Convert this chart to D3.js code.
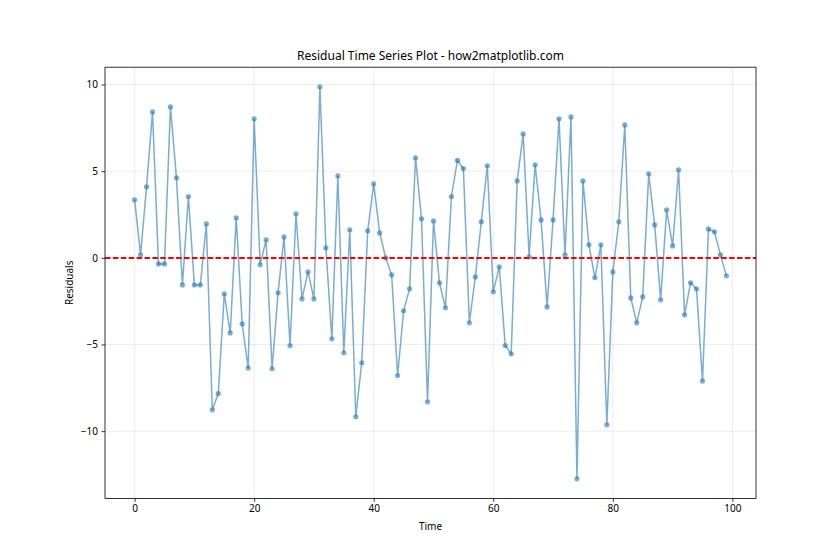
<!DOCTYPE html>
<html>
<head>
<meta charset="utf-8">
<script src="https://cdn.jsdelivr.net/npm/d3@7"></script>
<style>
body { margin: 0; background: #fff; }
svg { font-family: "Noto Sans", "DejaVu Sans", sans-serif; }
</style>
</head>
<body>
<svg id="chart" width="840" height="560"></svg>
<script>
const title = "Residual Time Series Plot - how2matplotlib.com";
const xLabel = "Time";
const yLabel = "Residuals";
const xTicks = [0, 20, 40, 60, 80, 100];
const yTicks = [-10, -5, 0, 5, 10];
const residuals = [
  3.35, 0.17, 4.10, 8.42, -0.35, -0.35, 8.71, 4.62, -1.56, 3.54,
  -1.56, -1.56, 1.96, -8.77, -7.83, -2.08, -4.33, 2.31, -3.81, -6.35,
  8.02, -0.40, 1.04, -6.40, -2.02, 1.21, -5.06, 2.54, -2.37, -0.81,
  -2.37, 9.87, 0.58, -4.67, 4.73, -5.48, 1.62, -9.17, -6.06, 1.56,
  4.27, 1.44, 0.00, -0.98, -6.79, -3.06, -1.79, 5.77, 2.25, -8.31,
  2.13, -1.44, -2.88, 3.54, 5.62, 5.15, -3.75, -1.10, 2.08, 5.31,
  -1.96, -0.52, -5.06, -5.54, 4.44, 7.15, 0.06, 5.37, 2.19, -2.83,
  2.19, 8.02, 0.17, 8.13, -12.75, 4.44, 0.75, -1.15, 0.75, -9.63,
  -0.81, 2.08, 7.67, -2.31, -3.75, -2.25, 4.85, 1.90, -2.42, 2.77,
  0.69, 5.08, -3.29, -1.44, -1.79, -7.10, 1.67, 1.50, 0.17, -1.04
];
const time = residuals.map((_, i) => i);

const svg = d3.select("#chart");
const W = 840, H = 560;
const m = { left: 105, right: 84, top: 67.2, bottom: 61.6 };
const iw = W - m.left - m.right, ih = H - m.top - m.bottom;

const xExt = d3.extent(time), yExt = d3.extent(residuals);
const xPad = (xExt[1] - xExt[0]) * 0.05, yPad = (yExt[1] - yExt[0]) * 0.05;
const x = d3.scaleLinear().domain([xExt[0] - xPad, xExt[1] + xPad]).range([0, iw]);
const y = d3.scaleLinear().domain([yExt[0] - yPad, yExt[1] + yPad]).range([ih, 0]);

const g = svg.append("g").attr("transform", `translate(${m.left},${m.top})`);

// grid
g.append("g").selectAll("line").data(xTicks).join("line")
  .attr("x1", d => x(d)).attr("x2", d => x(d)).attr("y1", 0).attr("y2", ih)
  .attr("stroke", "#b0b0b0").attr("stroke-opacity", 0.3).attr("stroke-width", 0.8);
g.append("g").selectAll("line").data(yTicks).join("line")
  .attr("y1", d => y(d)).attr("y2", d => y(d)).attr("x1", 0).attr("x2", iw)
  .attr("stroke", "#b0b0b0").attr("stroke-opacity", 0.3).attr("stroke-width", 0.8);

// series
const line = d3.line().x((d, i) => x(time[i])).y(d => y(d));
g.append("path").datum(residuals).attr("d", line)
  .attr("fill", "none").attr("stroke", "#1f77b4").attr("stroke-opacity", 0.6).attr("stroke-width", 1.5);
g.append("g").selectAll("circle").data(residuals).join("circle")
  .attr("cx", (d, i) => x(time[i])).attr("cy", d => y(d)).attr("r", 2.6)
  .attr("fill", "#1f77b4").attr("fill-opacity", 0.6);

// zero line (on top)
const y0 = Math.round(m.top + y(0)) - m.top;
g.append("line").attr("x1", 0).attr("x2", iw).attr("y1", y0).attr("y2", y0)
  .attr("stroke", "#ff0000").attr("stroke-width", 2).attr("stroke-dasharray", "5.5,2.4");

// axes
const xAxis = g.append("g").attr("transform", `translate(0,${ih})`)
  .call(d3.axisBottom(x).tickValues(xTicks).tickSize(3.5).tickPadding(3.5).tickSizeOuter(0));
const yAxis = g.append("g")
  .call(d3.axisLeft(y).tickValues(yTicks).tickSize(3.5).tickPadding(3.5).tickSizeOuter(0));
[xAxis, yAxis].forEach(a => {
  a.select(".domain").remove();
  a.selectAll("text").attr("font-size", 10).attr("fill", "#000").attr("font-family", "Noto Sans, DejaVu Sans, sans-serif");
  a.selectAll("line").attr("stroke", "#000").attr("stroke-width", 0.8);
});

// frame
g.append("rect").attr("width", iw).attr("height", ih).attr("fill", "none")
  .attr("stroke", "#000").attr("stroke-width", 0.8);

// labels
svg.append("text").attr("x", m.left + iw / 2).attr("y", m.top - 7).attr("text-anchor", "middle")
  .attr("font-size", 12).text(title);
svg.append("text").attr("x", m.left + iw / 2).attr("y", m.top + ih + 32).attr("text-anchor", "middle")
  .attr("font-size", 10).text(xLabel);
svg.append("text").attr("transform", `translate(${m.left - 32},${m.top + ih / 2}) rotate(-90)`)
  .attr("text-anchor", "middle").attr("font-size", 10).text(yLabel);
</script>
</body>
</html>
